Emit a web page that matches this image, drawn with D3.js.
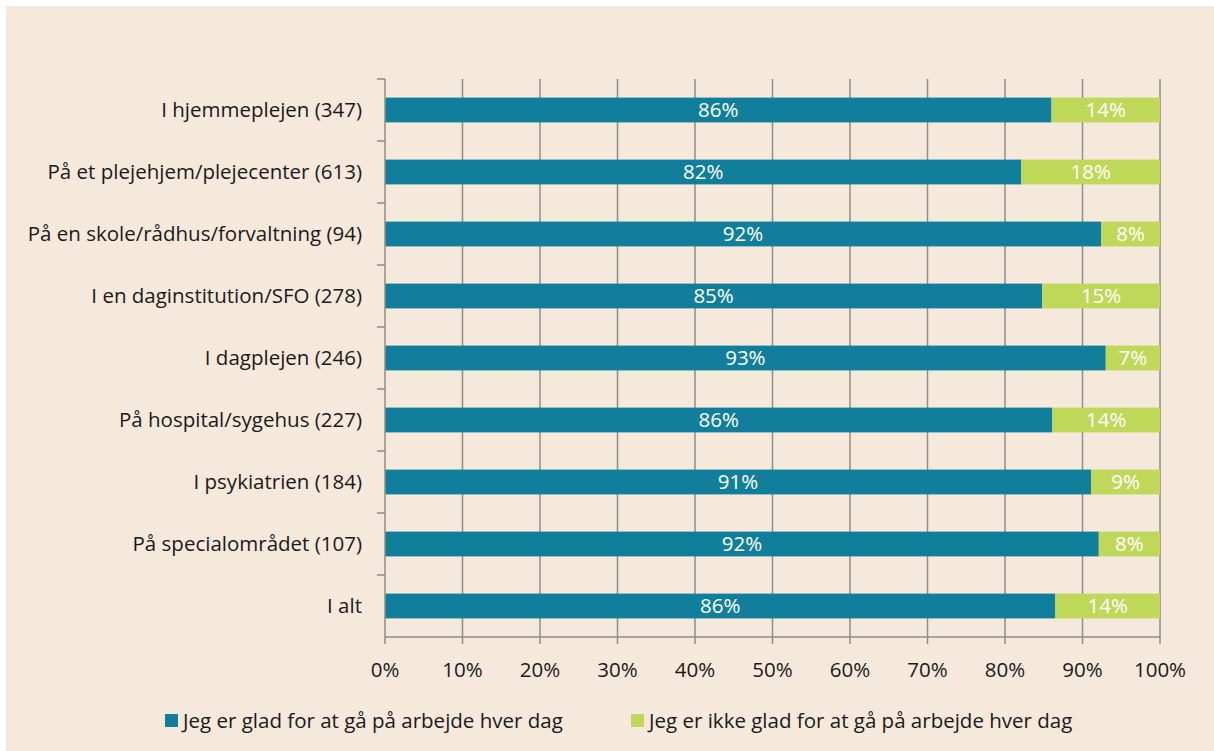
<!DOCTYPE html>
<html>
<head>
<meta charset="utf-8">
<script src="https://cdn.jsdelivr.net/npm/d3@7"></script>
<style>
  body { margin: 0; background: #ffffff; }
  svg { display: block; font-family: "Open Sans", "Noto Sans", sans-serif; }
</style>
</head>
<body>
<script>
// data
const categories = [
    "I hjemmeplejen (347)",
    "På et plejehjem/plejecenter (613)",
    "På en skole/rådhus/forvaltning (94)",
    "I en daginstitution/SFO (278)",
    "I dagplejen (246)",
    "På hospital/sygehus (227)",
    "I psykiatrien (184)",
    "På specialområdet (107)",
    "I alt"
];
const glad = [86.0, 82.1, 92.4, 84.8, 93.0, 86.1, 91.1, 92.1, 86.5];
const ikkeGlad = [14.0, 17.9, 7.6, 15.2, 7.0, 13.9, 8.9, 7.9, 13.5];
const gladLabels = ["86%", "82%", "92%", "85%", "93%", "86%", "91%", "92%", "86%"];
const ikkeLabels = ["14%", "18%", "8%", "15%", "7%", "14%", "9%", "8%", "14%"];
const seriesNames = ["Jeg er glad for at gå på arbejde hver dag", "Jeg er ikke glad for at gå på arbejde hver dag"];
const xTicks = [0, 10, 20, 30, 40, 50, 60, 70, 80, 90, 100];

// constants
const W = 1214, H = 751;
const COLORS = ["#117f9b", "#bfd85a"];
const GRID = "#8e8e8e";
const FONT_SIZE = 20.5;

const svg = d3.select("body").append("svg")
    .attr("width", W)
    .attr("height", H);

// background
svg.append("rect")
    .attr("x", 6).attr("y", 6)
    .attr("width", W - 6).attr("height", H - 6)
    .style("fill", "#f5e9dc");

const xScale = d3.scaleLinear().domain([0, 100]).range([385, 1160]);
const yScale = d3.scaleBand().domain(categories).range([79, 637]).paddingInner(0.6).paddingOuter(0.3);
const bandScale = d3.scaleBand().domain(categories).range([79, 637]);

// vertical gridlines
svg.append("g")
    .selectAll("line")
    .data(xTicks.slice(1))
    .enter()
    .append("line")
    .attr("x1", d => xScale(d))
    .attr("x2", d => xScale(d))
    .attr("y1", 79)
    .attr("y2", 637)
    .style("stroke", GRID)
    .style("stroke-width", 1.5);

// stacked bars
const rows = categories.map((c, i) => ({cat: c, a: glad[i], b: ikkeGlad[i], la: gladLabels[i], lb: ikkeLabels[i]}));

const rowG = svg.append("g").selectAll("g")
    .data(rows)
    .enter()
    .append("g");

rowG.append("rect")
    .attr("x", xScale(0))
    .attr("y", d => yScale(d.cat))
    .attr("width", d => xScale(d.a) - xScale(0))
    .attr("height", yScale.bandwidth())
    .style("fill", COLORS[0]);

rowG.append("rect")
    .attr("x", d => xScale(d.a))
    .attr("y", d => yScale(d.cat))
    .attr("width", d => xScale(d.a + d.b) - xScale(d.a))
    .attr("height", yScale.bandwidth())
    .style("fill", COLORS[1]);

rowG.append("text")
    .attr("x", d => (xScale(0) + xScale(d.a)) / 2)
    .attr("y", d => yScale(d.cat) + yScale.bandwidth() / 2)
    .attr("dy", "0.36em")
    .attr("text-anchor", "middle")
    .attr("font-size", FONT_SIZE + "px")
    .style("fill", "#ffffff")
    .text(d => d.la);

rowG.append("text")
    .attr("x", d => (xScale(d.a) + xScale(d.a + d.b)) / 2)
    .attr("y", d => yScale(d.cat) + yScale.bandwidth() / 2)
    .attr("dy", "0.36em")
    .attr("text-anchor", "middle")
    .attr("font-size", FONT_SIZE + "px")
    .style("fill", "#ffffff")
    .text(d => d.lb);

// y axis: line + ticks at band boundaries
const yAxisG = svg.append("g");
yAxisG.append("line")
    .attr("x1", 385).attr("x2", 385)
    .attr("y1", 79).attr("y2", 637)
    .style("stroke", GRID).style("stroke-width", 1.5);
yAxisG.selectAll(".ytick")
    .data(categories)
    .enter()
    .append("line")
    .attr("x1", 377).attr("x2", 385)
    .attr("y1", d => bandScale(d))
    .attr("y2", d => bandScale(d))
    .style("stroke", GRID).style("stroke-width", 1.5);
yAxisG.selectAll(".ylabel")
    .data(categories)
    .enter()
    .append("text")
    .attr("x", 362)
    .attr("y", d => bandScale(d) + bandScale.bandwidth() / 2)
    .attr("dy", "0.36em")
    .attr("text-anchor", "end")
    .attr("font-size", FONT_SIZE + "px")
    .style("fill", "#1a1a1a")
    .text(d => d);

// x axis
const xAxisG = svg.append("g");
xAxisG.append("line")
    .attr("x1", 385).attr("x2", 1160)
    .attr("y1", 637).attr("y2", 637)
    .style("stroke", GRID).style("stroke-width", 1.5);
xAxisG.selectAll(".xtick")
    .data(xTicks)
    .enter()
    .append("line")
    .attr("x1", d => xScale(d)).attr("x2", d => xScale(d))
    .attr("y1", 637).attr("y2", 644)
    .style("stroke", GRID).style("stroke-width", 1.5);
xAxisG.selectAll(".xlabel")
    .data(xTicks)
    .enter()
    .append("text")
    .attr("x", d => xScale(d))
    .attr("y", 677)
    .attr("text-anchor", "middle")
    .attr("font-size", FONT_SIZE + "px")
    .style("fill", "#1a1a1a")
    .text(d => d + "%");

// legend
const legendX = [165, 631];
const legend = svg.append("g").selectAll("g")
    .data(seriesNames)
    .enter()
    .append("g")
    .attr("transform", (d, i) => "translate(" + legendX[i] + ",714)");
legend.append("rect")
    .attr("width", 13).attr("height", 13)
    .style("fill", (d, i) => COLORS[i]);
legend.append("text")
    .attr("x", 18)
    .attr("y", 6.5)
    .attr("dy", "0.36em")
    .attr("font-size", FONT_SIZE + "px")
    .style("fill", "#1a1a1a")
    .text(d => d);
</script>
</body>
</html>
